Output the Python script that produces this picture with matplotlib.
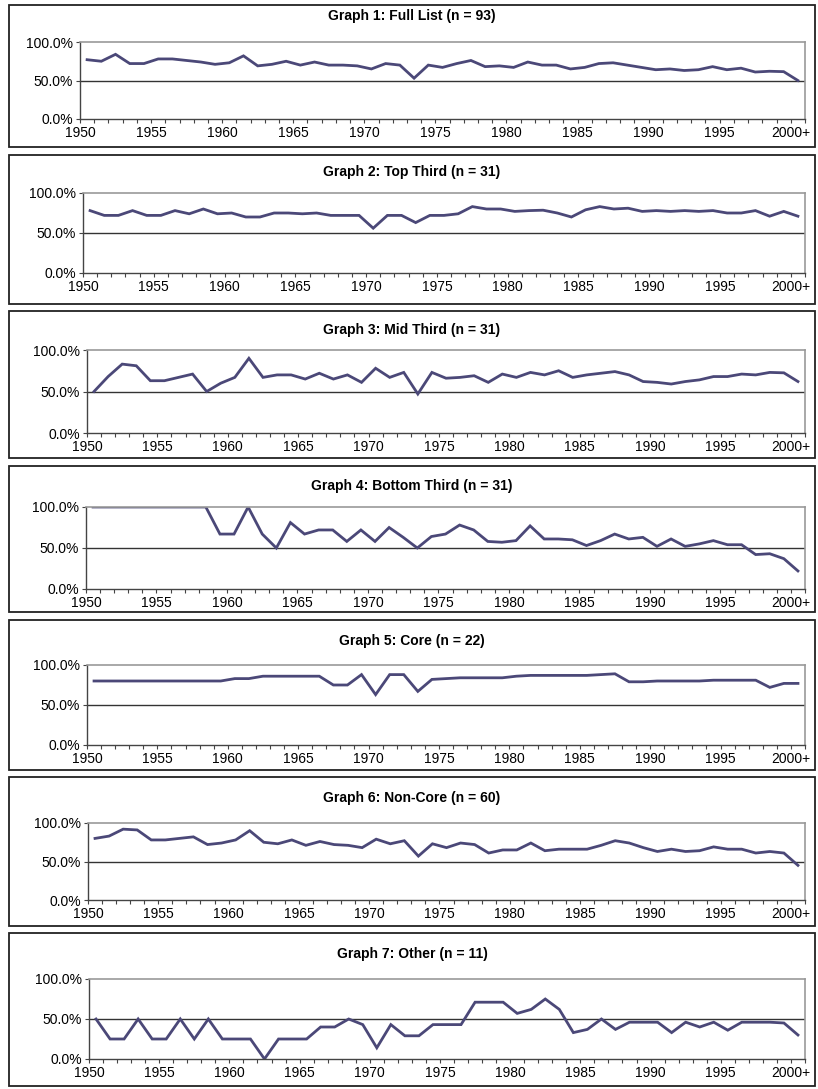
import numpy as np
import matplotlib
matplotlib.use("Agg")
from matplotlib import pyplot as plt
from matplotlib.patches import Rectangle
from matplotlib.ticker import FixedLocator, NullFormatter

plt.rcParams['font.family'] = ['Liberation Sans', 'DejaVu Sans']

# category axis: 1950 ... 1999, 2000+
tick_labels = ['1950', '1955', '1960', '1965', '1970', '1975',
               '1980', '1985', '1990', '1995', '2000+']
y_labels = ['0.0%', '50.0%', '100.0%']

titles = ['Graph 1: Full List (n = 93)',
          'Graph 2: Top Third (n = 31)',
          'Graph 3: Mid Third (n = 31)',
          'Graph 4: Bottom Third (n = 31)',
          'Graph 5: Core (n = 22)',
          'Graph 6: Non-Core (n = 60)',
          'Graph 7: Other (n = 11)']

full_list = [77, 75, 84, 72, 72, 78, 78, 76, 74, 71, 73, 82, 69, 71, 75, 70, 74,
             70, 70, 69, 65, 72, 70, 53, 70, 67, 72, 76, 68, 69, 67, 74, 70, 70,
             65, 67, 72, 73, 70, 67, 64, 65, 63, 64, 68, 64, 66, 61, 62, 61.5, 50]

top_third = [78, 72, 72, 78, 72, 72, 78, 74, 80, 74, 75, 70, 70, 75, 75, 74, 75,
             72, 72, 72, 56, 72, 72, 63, 72, 72, 74, 83, 80, 80, 77, 78, 78.5, 75,
             70, 79, 83, 80, 81, 77, 78, 77, 78, 77, 78, 75, 75, 78, 71, 77, 71]

mid_third = [50, 68, 83, 81, 63, 63, 67, 71, 50, 60, 67, 90, 67, 70, 70, 65, 72,
             65, 70, 61, 78, 67, 73, 47, 73, 66, 67, 69, 61, 71, 67, 73, 70, 75,
             67, 70, 72, 74, 70, 62, 61, 59, 62, 64, 68, 68, 71, 70, 73, 72.5, 62]

bottom_third = [100, 100, 100, 100, 100, 100, 100, 100, 100, 67, 67, 100, 67, 50,
                81, 67, 72, 72, 58, 72, 58, 75, 63, 50, 64, 67, 78, 72, 58, 57, 59,
                77, 61, 61, 60, 53, 59, 67, 61, 63, 52, 61, 52, 55, 59, 54, 54, 42,
                43, 37, 22]

core = [80, 80, 80, 80, 80, 80, 80, 80, 80, 80, 83, 83, 86, 86, 86, 86, 86, 75,
        75, 88, 63, 88, 88, 67, 82, 83, 84, 84, 84, 84, 86, 87, 87, 87, 87, 87,
        88, 89, 79, 79, 80, 80, 80, 80, 81, 81, 81, 81, 72, 77, 77]

non_core = [80, 83, 92, 91, 78, 78, 80, 82, 72, 74, 78, 90, 75, 73, 78, 71, 76,
            72, 71, 68, 79, 73, 77, 57, 73, 68, 74, 72, 61, 65, 65, 74, 64, 66,
            66, 66, 71, 77, 74, 68, 63, 66, 63, 64, 69, 66, 66, 61, 63, 61, 45]

other = [50, 25, 25, 50, 25, 25, 50, 25, 50, 25, 25, 25, 0, 25, 25, 25, 40, 40,
         50, 43, 14, 43, 29, 29, 43, 43, 43, 71, 71, 71, 57, 62, 75, 62, 33, 37,
         50, 37, 46, 46, 46, 33, 46, 40, 46, 36, 46, 46, 46, 45, 30]

series = [full_list, top_third, mid_third, bottom_third, core, non_core, other]

W, H = 818, 1089
fig = plt.figure(figsize=(W / 100, H / 100), dpi=100)

# layout in pixels
boxes = [(5, 147), (155, 304), (311, 458), (466, 612), (620, 770), (777, 926), (933, 1086)]
plots = [(42, 119), (193, 273), (350, 433), (507, 589), (665, 745), (823, 900), (979, 1059)]
title_y = [16, 172, 330, 486, 641, 798, 954]
lefts = [80, 83, 87, 86, 87, 88, 89]
right = 805

line_col = '#4b4878'

for i in range(7):
    bt, bb = boxes[i]
    fig.add_artist(Rectangle((9 / W, 1 - bb / H), (815 - 9) / W, (bb - bt) / H,
                             transform=fig.transFigure, fill=False,
                             edgecolor='#222222', linewidth=1.3))
    pt, pb = plots[i]
    ax = fig.add_axes([lefts[i] / W, 1 - pb / H, (right - lefts[i]) / W, (pb - pt) / H])
    x = np.arange(len(series[i]))
    ax.plot(x, series[i], color=line_col, lw=2.0, solid_joinstyle='miter')
    ax.set_xlim(-0.5, 50.5)
    ax.set_ylim(0, 100)
    ax.axhline(50, color='#333333', lw=1.0, zorder=1)

    ax.set_yticks([0, 50, 100])
    ax.set_yticklabels(y_labels)
    ax.xaxis.set_major_locator(FixedLocator(np.arange(-0.5, 51, 5)))
    ax.set_xticklabels(tick_labels)
    ax.xaxis.set_minor_locator(FixedLocator(np.arange(-0.5, 51, 1)))
    ax.xaxis.set_minor_formatter(NullFormatter())
    ax.tick_params(axis='both', which='both', direction='out', length=3,
                   width=0.8, color='#444444', labelsize=10, pad=2)
    ax.tick_params(axis='x', which='major', pad=2)

    for s in ['top', 'right']:
        ax.spines[s].set_color('#999999')
        ax.spines[s].set_linewidth(1.2)
    for s in ['left', 'bottom']:
        ax.spines[s].set_color('#444444')
        ax.spines[s].set_linewidth(1.0)

    fig.text(0.5 * (9 + 815) / W, 1 - title_y[i] / H, titles[i], ha='center',
             va='center', fontsize=10, fontweight='bold')

fig.savefig('out.png', dpi=100)
